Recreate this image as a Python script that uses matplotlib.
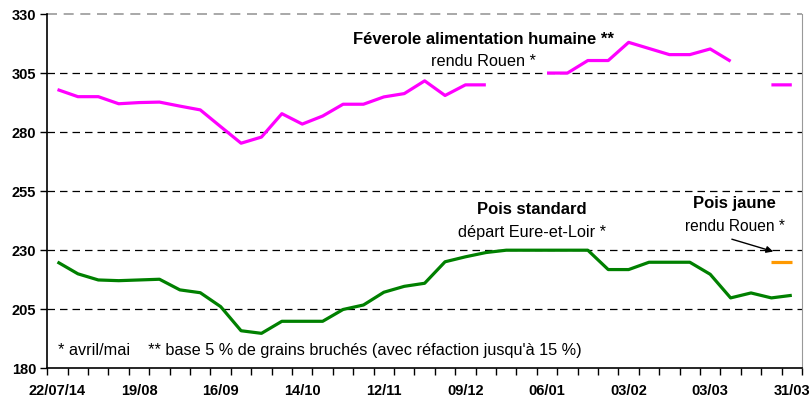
import matplotlib.pyplot as plt
import numpy as np
from matplotlib import font_manager

nan = np.nan

# semaines (une valeur par semaine, 22/07/14 -> 31/03)
tick_labels = ["22/07/14", "19/08", "16/09", "14/10", "12/11",
               "09/12", "06/01", "03/02", "03/03", "31/03"]
n_weeks = 37

feverole = [298, 295, 295, 292, 292.5, 292.7, 291, 289.4, 282.3, 275.3,
            277.9, 287.8, 283.4, 286.8, 291.8, 291.8, 294.9, 296.3, 301.7, 295.5,
            300, 300, nan, nan, 305, 305, 310.3, 310.3, 318, 315.4,
            312.8, 312.8, 315.2, 310, nan, 300, 300]
pois_std = [225, 220, 217.4, 217.1, 217.4, 217.7, 213.2, 212, 206.1, 195.9,
            194.8, 199.9, 199.9, 199.9, 204.9, 206.8, 212.2, 214.7, 216, 225.1,
            227.2, 229, 230, 230, 230, 230, 230, 221.8, 221.8, 224.9,
            224.9, 224.9, 219.8, 209.8, 211.9, 209.8, 210.9]
pois_jaune = [nan] * 35 + [225, 225]

avail = {f.name for f in font_manager.fontManager.ttflist}
fam = "Liberation Sans Narrow" if "Liberation Sans Narrow" in avail else "Liberation Sans"
plt.rcParams['font.family'] = [fam, 'DejaVu Sans']

fig = plt.figure(figsize=(8.1, 4.01), dpi=100)
ax = fig.add_axes([47.3 / 810, 1 - 368.3 / 401, (802 - 47.3) / 810, (368.3 - 14) / 401])

x = np.arange(n_weeks)
ax.plot(x, feverole, color='#FF00FF', lw=2.3, solid_capstyle='butt')
ax.plot(x, pois_std, color='#008000', lw=2.3, solid_capstyle='butt')
ax.plot(x, pois_jaune, color='#FF9900', lw=2.3, solid_capstyle='butt')

ax.set_xlim(-0.5, n_weeks - 0.5)
ax.set_ylim(180, 330)

# grille pointillée
for v in [205, 230, 255, 280, 305]:
    ax.axhline(v, color='black', lw=0.9, ls=(0, (6, 4)), zorder=0)
ax.axhline(330, color='#999999', lw=1.2, ls=(0, (6, 4)), zorder=0, clip_on=False)

ax.spines['top'].set_visible(False)
ax.spines['right'].set_color('#999999')
ax.spines['left'].set_linewidth(1.2)
ax.spines['bottom'].set_linewidth(1.2)

ax.set_yticks(np.arange(180, 331, 25))
ax.set_yticklabels([str(v) for v in range(180, 331, 25)], fontweight='bold', fontsize=10.5)
ax.tick_params(axis='y', length=5, width=1, pad=3)

ax.set_xticks(np.arange(0, n_weeks, 4))
ax.set_xticklabels(tick_labels, fontweight='bold', fontsize=10.5)
ax.set_xticks(np.arange(-0.5, n_weeks, 1), minor=True)
ax.tick_params(axis='x', which='major', length=0, pad=11.5)
ax.tick_params(axis='x', which='minor', length=5, width=1)

ax.text(20.88, 319.0, "Féverole alimentation humaine **", ha='center', va='center',
        fontsize=12, fontweight='bold')
ax.text(20.88, 309.85, "rendu Rouen *", ha='center', va='center', fontsize=11.7)
ax.text(23.26, 247.4, "Pois standard", ha='center', va='center',
        fontsize=12, fontweight='bold')
ax.text(23.26, 237.7, "départ Eure-et-Loir *", ha='center', va='center', fontsize=11.7)
ax.text(33.2, 249.9, "Pois jaune", ha='center', va='center',
        fontsize=12, fontweight='bold')
ax.text(33.2, 240.2, "rendu Rouen *", ha='center', va='center', fontsize=11.2)
ax.annotate("", xy=(35.22, 229.1), xytext=(32.93, 235.0),
            arrowprops=dict(arrowstyle='-|>', color='black', lw=1, mutation_scale=10))
ax.text(0.02, 187.7, "* avril/mai    ** base 5 % de grains bruchés (avec réfaction jusqu'à 15 %)",
        ha='left', va='center', fontsize=11.7)

fig.savefig("out.png", dpi=100)
